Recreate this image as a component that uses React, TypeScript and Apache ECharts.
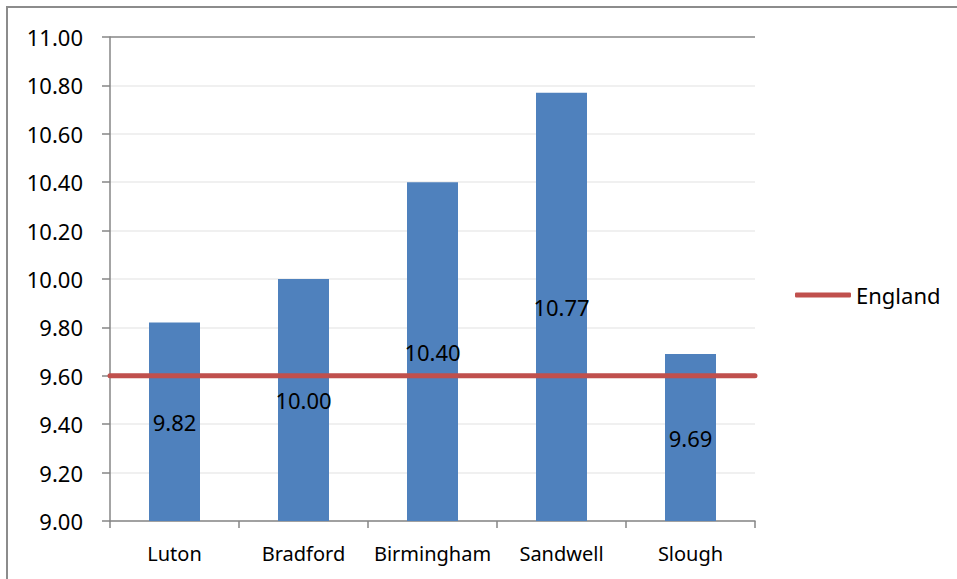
import React, { useEffect, useRef } from "react";
import * as echarts from "echarts";

const categories = ["Luton", "Bradford", "Birmingham", "Sandwell", "Slough"];
const rateValues = [9.82, 10.0, 10.4, 10.77, 9.69];
const englandValues = [9.6, 9.6, 9.6, 9.6, 9.6];
const englandName = "England";

const FONT = "'Noto Sans', 'DejaVu Sans', sans-serif";

export default function App() {
  const ref = useRef<HTMLDivElement>(null);
  useEffect(() => {
    if (!ref.current) return;
    const chart = echarts.init(ref.current, null, { renderer: "svg" });
    const splitColors = [
      "#EBEBEB", "#EBEBEB", "#EBEBEB", "#EBEBEB", "#EBEBEB", "#EBEBEB",
      "#EBEBEB", "#EBEBEB", "#EBEBEB", "#EBEBEB", "#868686",
    ];
    chart.setOption({
      animation: false,
      backgroundColor: "#ffffff",
      textStyle: { fontFamily: FONT },
      graphic: [
        {
          type: "rect",
          shape: { x: 7, y: 7, width: 1000, height: 700 },
          style: { fill: "none", stroke: "#8C8C8C", lineWidth: 2 },
          silent: true,
        },
      ],
      grid: { left: 110, top: 37, right: 202, bottom: 58, containLabel: false },
      legend: {
        data: [{ name: englandName, icon: "roundRect" }],
        left: 790,
        top: 279,
        itemWidth: 56,
        itemHeight: 5,
        itemGap: 5,
        textStyle: { fontSize: 22, color: "#000", fontFamily: FONT },
      },
      xAxis: [
        {
          type: "category",
          data: categories,
          axisLine: { lineStyle: { color: "#868686", width: 1.5 } },
          axisTick: { show: true, interval: 0, length: 7, alignWithLabel: false, lineStyle: { color: "#868686", width: 1.5 } },
          axisLabel: { interval: 0, fontSize: 20, color: "#000", margin: 22, fontFamily: FONT },
        },
        {
          type: "category",
          data: categories,
          boundaryGap: false,
          show: false,
        },
      ],
      yAxis: {
        type: "value",
        min: 9,
        max: 11,
        interval: 0.2,
        axisLine: { show: true, lineStyle: { color: "#868686", width: 1.5 } },
        axisTick: { show: true, length: 8, lineStyle: { color: "#868686", width: 1.5 } },
        axisLabel: {
          fontSize: 22,
          color: "#000",
          margin: 27,
          fontFamily: FONT,
          formatter: (v: number) => v.toFixed(2),
        },
        splitLine: { show: true, lineStyle: { color: splitColors, width: 1.5 } },
      },
      series: [
        {
          name: "Rate",
          type: "bar",
          data: rateValues,
          barWidth: 51,
          itemStyle: { color: "#4F81BD" },
          label: {
            show: true,
            position: "inside",
            color: "#000",
            fontSize: 22,
            fontFamily: FONT,
            formatter: (p: any) => Number(p.value).toFixed(2),
          },
          z: 2,
        },
        {
          name: englandName,
          type: "line",
          xAxisIndex: 1,
          data: englandValues,
          symbol: "none",
          itemStyle: { color: "#C0504D" },
          lineStyle: { color: "#C0504D", width: 5, cap: "round" },
          z: 3,
        },
      ],
    });
    return () => chart.dispose();
  }, []);
  return (
    <div
      ref={ref}
      style={{ position: "fixed", left: 0, top: 0, width: 957, height: 579 }}
    />
  );
}
